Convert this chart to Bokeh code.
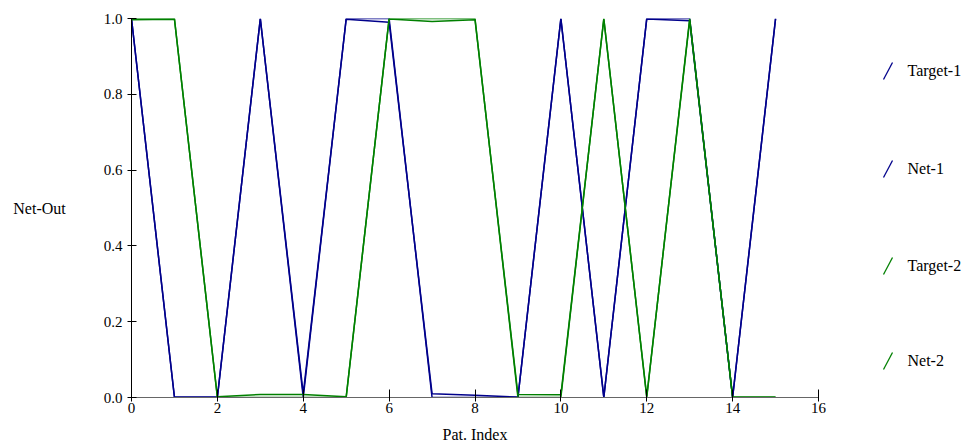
from bokeh.plotting import figure
from bokeh.layouts import row
from bokeh.models import Range1d, FixedTicker, NumeralTickFormatter
from bokeh.core.properties import value
from bokeh.embed import file_html
from bokeh.resources import INLINE

pat_index = list(range(16))
target_1 = [1, 0, 0, 1, 0, 1, 1, 0, 0, 0, 1, 0, 1, 1, 0, 1]
net_1 = [0.999, 0.002, 0.001, 0.999, 0.010, 0.998, 0.990, 0.010, 0.006, 0.001,
         0.999, 0.001, 0.999, 0.994, 0.001, 0.999]
target_2 = [1, 1, 0, 0, 0, 0, 1, 1, 1, 0, 0, 1, 0, 1, 0, 0]
net_2 = [0.997, 0.998, 0.002, 0.008, 0.008, 0.002, 0.999, 0.992, 0.997, 0.008,
         0.007, 0.998, 0.003, 0.995, 0.002, 0.001]

series_names = ["Target-1", "Net-1", "Target-2", "Net-2"]
series_colors = ["#00008B", "#00008B", "#008000", "#008000"]
x_ticks = [0, 2, 4, 6, 8, 10, 12, 14, 16]
y_ticks = [0.0, 0.2, 0.4, 0.6, 0.8, 1.0]

FONT = "Liberation Serif"
H = 445
MAIN_W = 840
FRAME_TOP, FRAME_BOTTOM = 18, 397

p = figure(width=MAIN_W, height=H, output_backend="svg",
           toolbar_location=None, x_range=Range1d(0, 16), y_range=Range1d(0, 1),
           min_border_top=FRAME_TOP, min_border_left=131, min_border_right=22,
           min_border_bottom=0)
p.outline_line_color = None
p.xgrid.visible = False
p.ygrid.visible = False

for ys, name, col in zip([target_1, net_1, target_2, net_2], series_names, series_colors):
    p.line(pat_index, ys, line_color=col, line_width=1.5)

p.xaxis.ticker = FixedTicker(ticks=x_ticks)
p.yaxis.ticker = FixedTicker(ticks=y_ticks)
p.yaxis.formatter = NumeralTickFormatter(format="0.0")
for ax in (p.xaxis[0], p.yaxis[0]):
    ax.minor_tick_line_color = None
    ax.major_label_text_font = FONT
    ax.major_label_text_font_size = "15px"
    ax.major_label_text_color = "black"
    ax.axis_label_text_font = FONT
    ax.axis_label_text_font_size = "16px"
    ax.axis_label_text_font_style = "normal"
    ax.axis_label_text_color = "black"
    ax.major_tick_line_color = "black"
p.xaxis.axis_label = "Pat. Index"
p.yaxis.axis_label = "Net-Out"
p.yaxis.axis_label_orientation = "horizontal"
p.yaxis.axis_label_standoff = 35
p.yaxis.major_tick_in = 5
p.yaxis.major_tick_out = 4
p.yaxis.axis_line_color = "black"
p.xaxis.axis_line_color = "#666666"
p.xaxis.major_tick_in = 8
p.xaxis.major_tick_out = 4
p.xaxis.major_label_standoff = 1
p.xaxis.axis_label_standoff = 10

# legend panel (its frame is aligned with the main frame by the row layout,
# so its y range is expressed in page pixels of that frame)
LW = 967 - MAIN_W
leg = figure(width=LW, height=H, output_backend="svg", toolbar_location=None,
             x_range=Range1d(0, LW), y_range=Range1d(FRAME_BOTTOM, FRAME_TOP),
             min_border=0, min_border_left=0, min_border_right=0,
             min_border_top=0, min_border_bottom=0)
leg.axis.visible = False
leg.xgrid.visible = False
leg.ygrid.visible = False
leg.outline_line_color = None
entry_y = [70, 168, 265, 360]
leg.segment(x0=[43] * 4, y0=[e + 9 for e in entry_y], x1=[52] * 4, y1=[e - 8 for e in entry_y],
            line_color=series_colors, line_width=1.3)
leg.text(x=[67] * 4, y=entry_y, text=series_names, text_font=value(FONT),
         text_font_size="16px", text_baseline="middle", text_color="black")

layout = row(p, leg)
open("out.html", "w").write(file_html(layout, INLINE))
